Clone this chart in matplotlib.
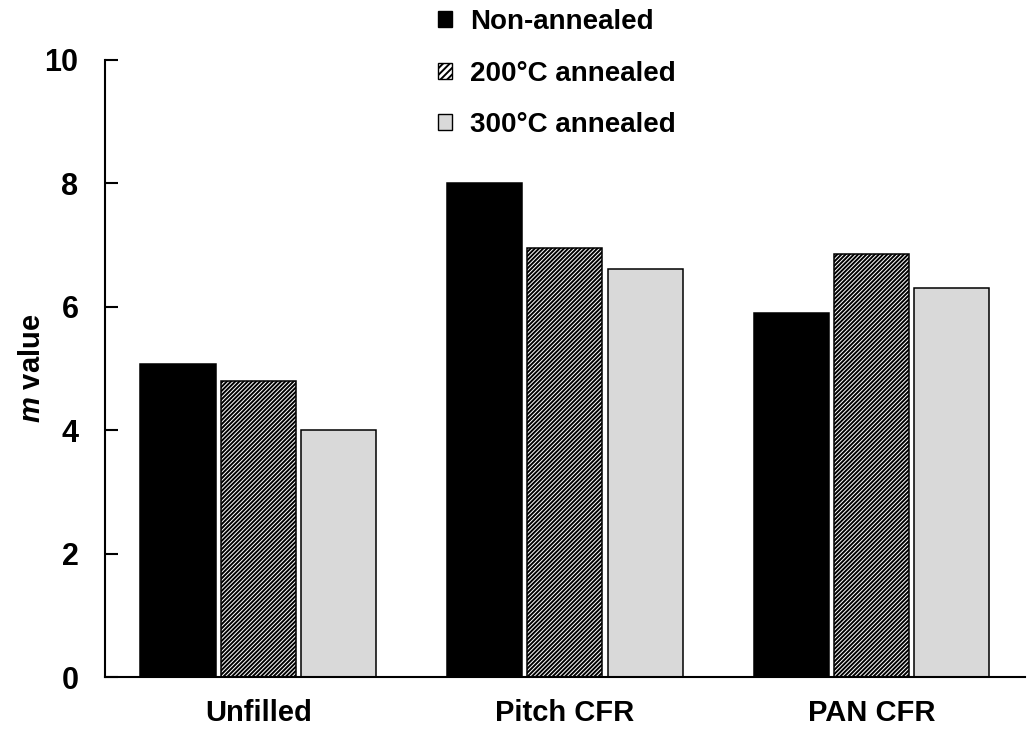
import numpy as np
import matplotlib
matplotlib.use("Agg")
import matplotlib.pyplot as plt
from matplotlib.patches import Patch

plt.rcParams['font.family'] = ['Liberation Sans', 'DejaVu Sans']
plt.rcParams['font.weight'] = 'bold'
plt.rcParams['mathtext.fontset'] = 'custom'
plt.rcParams['mathtext.it'] = 'Liberation Sans:italic:bold'
plt.rcParams['mathtext.rm'] = 'Liberation Sans:bold'
plt.rcParams['hatch.linewidth'] = 1.4

categories = ["Unfilled", "Pitch CFR", "PAN CFR"]
series = ["Non-annealed", "200°C annealed", "300°C annealed"]
non_annealed = [5.08, 8.0, 5.9]
annealed_200 = [4.8, 6.95, 6.85]
annealed_300 = [4.0, 6.62, 6.3]

values = [non_annealed, annealed_200, annealed_300]
colors = ["black", "white", "#d9d9d9"]
hatches = [None, "////////", None]

fig = plt.figure(figsize=(10.29, 7.29), dpi=100)
ax = fig.add_axes([0.102, 0.0713, 0.894, 0.8464])

x = np.arange(len(categories))
width = 0.245
step = 0.262
for i, vals in enumerate(values):
    ax.bar(x + (i - 1) * step, vals, width, color=colors[i], hatch=hatches[i],
           edgecolor="black", linewidth=1.1)

ax.set_xlim(-0.5, 2.5)
ax.set_ylim(0, 10)
ax.set_yticks([0, 2, 4, 6, 8, 10])
ax.set_xticks(x)
ax.set_xticklabels(categories, fontsize=21, fontweight='bold')
ax.tick_params(axis='x', length=0, pad=16)
ax.tick_params(axis='y', direction='in', length=9, width=1.5, labelsize=22, pad=19)
for lab in ax.get_yticklabels():
    lab.set_fontweight('bold')
ax.spines['top'].set_visible(False)
ax.spines['right'].set_visible(False)
ax.spines['left'].set_linewidth(1.5)
ax.spines['bottom'].set_linewidth(1.5)
ax.set_ylabel("$m$ value", fontsize=21, fontweight='bold', labelpad=-1)

handles = [Patch(facecolor=colors[i], edgecolor="black", hatch="/////" if hatches[i] else None,
                 linewidth=1) for i in range(3)]
fig.legend(handles, series, loc='upper left', bbox_to_anchor=(0.404, 1.018),
           frameon=False, handlelength=0.5, handleheight=0.5,
           handletextpad=0.65, labelspacing=0.92, borderpad=0.3,
           prop={'weight': 'bold', 'size': 20})

fig.savefig("out.png", dpi=100)
